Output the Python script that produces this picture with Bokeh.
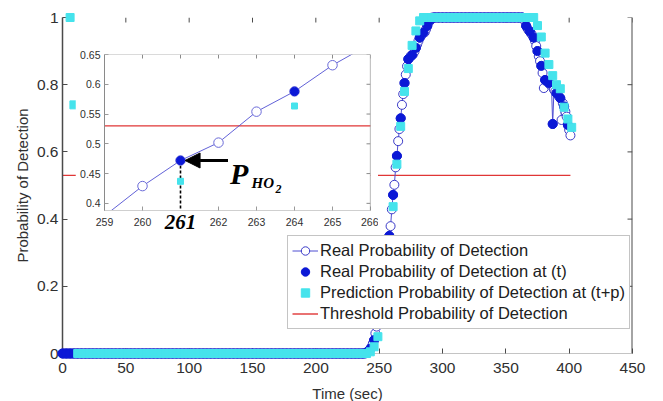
from bokeh.plotting import figure
from bokeh.models import (Range1d, FixedTicker, Legend, LegendItem,
                          Label, Arrow, NormalHead, Span)
from bokeh.embed import file_html
from bokeh.resources import INLINE

# ---------------- data ----------------
# real probability of detection, one sample per second (0 .. 401 s)
real_t = list(range(0, 402))
real_p = (
    [0.0] * 240
    + [0.003, 0.006, 0.010, 0.014, 0.020, 0.030, 0.040, 0.060, 0.080, 0.105,
       0.130, 0.155, 0.180, 0.205, 0.230, 0.255, 0.280, 0.310, 0.350, 0.379,
       0.429, 0.472, 0.502, 0.554, 0.588, 0.632, 0.668, 0.700, 0.740, 0.772,
       0.805, 0.830, 0.855, 0.876, 0.880, 0.886, 0.888, 0.892, 0.900, 0.910,
       0.920, 0.930, 0.940, 0.945, 0.950, 0.955, 0.956, 0.965, 0.975, 0.985,
       0.990, 0.995]
    + [1.0] * 71
    + [1.0, 0.998, 0.990, 0.975, 0.968, 0.962, 0.958, 0.952, 0.947, 0.940,
       0.930, 0.915, 0.900, 0.885, 0.870, 0.856, 0.835, 0.790, 0.814, 0.810,
       0.808, 0.805, 0.800, 0.800, 0.683, 0.785, 0.780, 0.775, 0.770, 0.765,
       0.760, 0.695, 0.745, 0.735, 0.720, 0.705, 0.680, 0.665, 0.649]
)

# real probability sampled at the decision instants t (every 3 s)
meas_t = real_t[::3]
meas_p = real_p[::3]

# predicted probability at (t+p)
pred_t = list(range(6, 405, 3))
pred_p = (
    [1.0, 0.74]
    + [0.0] * 77
    + [0.005, 0.020, 0.050, 0.120, 0.200, 0.300, 0.437, 0.5635, 0.676, 0.780,
       0.848, 0.917, 0.960, 0.990]
    + [1.0] * 30
    + [0.976, 0.942, 0.894, 0.860, 0.827, 0.800, 0.788, 0.733, 0.698, 0.673]
)

threshold = 0.53
thr_t = [real_t[0], real_t[-1]]
thr_p = [threshold, threshold]

# handover instant highlighted in the zoomed view
t_ho2 = 261
p_ho2 = real_p[real_t.index(t_ho2)]

main_xticks = [0, 50, 100, 150, 200, 250, 300, 350, 400, 450]
main_yticks = [0, 0.2, 0.4, 0.6, 0.8, 1]
main_ylabels = ["0", "0.2", "0.4", "0.6", "0.8", "1"]

zoom_xticks = [259, 260, 262, 263, 264, 265, 266]   # 261 gets its own label
zoom_xtick_marks = [259, 260, 261, 262, 263, 264, 265, 266]
zoom_yticks = [0.4, 0.45, 0.5, 0.55, 0.6, 0.65]
zoom_ylabels = ["0.4", "0.45", "0.5", "0.55", "0.6", "0.65"]

# ---------------- style ----------------
FONT = "Liberation Sans"
SERIF = "Liberation Serif"
C_LINE = "#4f4fd2"
C_OPEN = "#3a3ac8"
C_MEAS = "#0b18d6"
C_PRED = "#45e3ec"
C_THR = "#e03636"
C_AXIS = "#4a4a4a"
C_TEXT = "#303030"


def style_axis(ax, line_color, font_size, tick_color, tick_len=5):
    ax.major_tick_in = tick_len
    ax.major_tick_out = 0
    ax.minor_tick_line_color = None
    ax.major_tick_line_color = tick_color
    ax.axis_line_color = line_color
    ax.major_label_text_font = FONT
    ax.major_label_text_color = C_TEXT
    ax.major_label_text_font_size = font_size


def box_ticks(fig, xticks, yticks, color, length_px, fw, fh):
    """Inward tick marks on the top and right edges of a frame."""
    x0, x1 = fig.x_range.start, fig.x_range.end
    y0, y1 = fig.y_range.start, fig.y_range.end
    dy = (y1 - y0) * length_px / fh
    dx = (x1 - x0) * length_px / fw
    fig.segment(x0=xticks, y0=[y1] * len(xticks),
                x1=xticks, y1=[y1 - dy] * len(xticks),
                line_color=color, line_width=1)
    fig.segment(x0=[x1] * len(yticks), y0=yticks,
                x1=[x1 - dx] * len(yticks), y1=yticks,
                line_color=color, line_width=1)


# ---------------- main axes ----------------
MW, MH = 570, 336
p = figure(frame_width=MW, frame_height=MH,
           min_border_left=62, min_border_right=31,
           min_border_top=17, min_border_bottom=48,
           x_range=Range1d(0, 450), y_range=Range1d(0, 1),
           output_backend="svg", toolbar_location=None,
           background_fill_color="white", border_fill_color="white",
           styles={"position": "absolute", "left": "0px", "top": "0px"})
p.grid.visible = False
p.outline_line_color = None

p.xaxis.ticker = FixedTicker(ticks=main_xticks)
p.yaxis.ticker = FixedTicker(ticks=main_yticks)
p.yaxis.major_label_overrides = dict(zip(main_yticks, main_ylabels))
style_axis(p.xaxis[0], "#c4c4c4", "15.5px", C_AXIS)
style_axis(p.yaxis[0], C_AXIS, "15.5px", C_AXIS)
p.yaxis.axis_line_width = 1.5
p.xaxis.major_label_standoff = 9
p.yaxis.major_label_standoff = 4
p.xaxis.axis_label = "Time (sec)"
p.yaxis.axis_label = "Probability of Detection"
for ax in (p.xaxis[0], p.yaxis[0]):
    ax.axis_label_text_font = FONT
    ax.axis_label_text_font_size = "15px"
    ax.axis_label_text_font_style = "normal"
    ax.axis_label_text_color = C_TEXT
p.xaxis.axis_label_standoff = 9
p.yaxis.axis_label_standoff = 3

p.add_layout(Span(location=p.x_range.end, dimension="height",
                  line_color=C_AXIS, line_width=2))
box_ticks(p, main_xticks, main_yticks, C_AXIS, 5, MW, MH)

# markers are drawn on the overlay level so that those sitting on 0 and 1
# are shown whole rather than cut by the frame edge
r_thr = p.line(thr_t, thr_p, line_color=C_THR, line_width=1.4)
r_line = p.line(real_t, real_p, line_color=C_LINE, line_width=1)
r_open = p.scatter(real_t, real_p, marker="circle", size=9,
                   fill_color="white", line_color=C_OPEN, line_width=1,
                   level="overlay")
r_meas = p.scatter(meas_t, meas_p, marker="circle", size=9,
                   fill_color=C_MEAS, line_color=C_MEAS, level="overlay")
r_pred = p.scatter(pred_t, pred_p, marker="square", size=8,
                   fill_color=C_PRED, line_color=C_PRED, level="overlay")

legend = Legend(items=[
    LegendItem(label="Real Probability of Detection", renderers=[r_line, r_open]),
    LegendItem(label="Real Probability of Detection at (t)", renderers=[r_meas]),
    LegendItem(label="Prediction Probability of Detection at (t+p)", renderers=[r_pred]),
    LegendItem(label="Threshold Probability of Detection", renderers=[r_thr]),
], location=(225, 24), level="overlay")
legend.label_text_font = FONT
legend.label_text_font_size = "16.5px"
legend.label_text_color = "#202020"
legend.border_line_color = "#8a8a8a"
legend.border_line_width = 1
legend.background_fill_color = "white"
legend.background_fill_alpha = 1
legend.padding = 4
legend.spacing = 0
legend.margin = 0
legend.glyph_width = 26
legend.glyph_height = 21
legend.label_height = 21
legend.label_standoff = 2
p.add_layout(legend, "center")

# ---------------- zoomed view ----------------
ZL, ZT = 75, 44           # placement of the zoomed view on the page
ZBL, ZBT = 29, 10         # its left / top borders
ZW, ZH = 266, 156
q = figure(frame_width=ZW, frame_height=ZH,
           min_border_left=ZBL, min_border_right=8,
           min_border_top=ZBT, min_border_bottom=25,
           x_range=Range1d(259, 266), y_range=Range1d(0.388, 0.65),
           output_backend="svg", toolbar_location=None,
           background_fill_color="white", border_fill_color="white",
           styles={"position": "absolute", "left": f"{ZL}px", "top": f"{ZT}px"})
q.grid.visible = False
q.outline_line_color = None
q.xaxis.ticker = FixedTicker(ticks=zoom_xticks)
q.yaxis.ticker = FixedTicker(ticks=zoom_yticks)
q.yaxis.major_label_overrides = dict(zip(zoom_yticks, zoom_ylabels))
style_axis(q.xaxis[0], "#cfcfcf", "10.5px", "#9a9a9a", tick_len=4)
style_axis(q.yaxis[0], "#8a8a8a", "10.5px", "#9a9a9a", tick_len=4)
q.xaxis.major_label_standoff = 7
q.yaxis.major_label_standoff = 4

q.add_layout(Span(location=q.y_range.end, dimension="width",
                  line_color="#b5b5b5", line_width=1))
q.add_layout(Span(location=q.x_range.end, dimension="height",
                  line_color="#8a8a8a", line_width=1.2))
box_ticks(q, zoom_xtick_marks, zoom_yticks, "#8a8a8a", 4, ZW, ZH)

q.line(thr_t, thr_p, line_color=C_THR, line_width=1.2)
q.segment(x0=[t_ho2], y0=[p_ho2], x1=[t_ho2], y1=[q.y_range.start],
          line_color="black", line_width=1.6, line_dash="3 2")
q.line(real_t, real_p, line_color=C_LINE, line_width=0.9)
q.scatter(real_t, real_p, marker="circle", size=9.5,
          fill_color="white", line_color="#6a6ad8", line_width=1)
q.scatter(meas_t, meas_p, marker="circle", size=8.5,
          fill_color=C_MEAS, line_color=C_MEAS)
q.scatter(pred_t, pred_p, marker="square", size=6,
          fill_color=C_PRED, line_color=C_PRED)

q.add_layout(Arrow(x_start=t_ho2 + 1.25, y_start=p_ho2,
                   x_end=t_ho2 + 0.12, y_end=p_ho2,
                   line_color="black", line_width=3,
                   end=NormalHead(size=15, fill_color="black", line_color="black")))

q.add_layout(Label(x=t_ho2 + 1.3, y=p_ho2 - 0.022, text="P",
                   text_font=SERIF, text_font_style="bold italic",
                   text_font_size="30px", text_color="black",
                   text_align="left", text_baseline="alphabetic"))
q.add_layout(Label(x=t_ho2 + 1.87, y=p_ho2 - 0.038, text="HO",
                   text_font=SERIF, text_font_style="bold italic",
                   text_font_size="15px", text_color="black",
                   text_align="left", text_baseline="alphabetic"))
q.add_layout(Label(x=t_ho2 + 2.5, y=p_ho2 - 0.048, text="2",
                   text_font=SERIF, text_font_style="bold italic",
                   text_font_size="12px", text_color="black",
                   text_align="left", text_baseline="alphabetic"))

# strip under the zoomed frame, sharing its time scale, for the emphasised tick label
s = figure(frame_width=ZW, frame_height=26,
           min_border_left=0, min_border_right=0,
           min_border_top=0, min_border_bottom=0,
           x_range=q.x_range, y_range=Range1d(0, 1),
           x_axis_location=None, y_axis_location=None,
           output_backend="svg", toolbar_location=None,
           background_fill_alpha=0, border_fill_alpha=0,
           styles={"position": "absolute", "left": f"{ZL + ZBL}px",
                   "top": f"{ZT + ZBT + ZH}px"})
s.grid.visible = False
s.outline_line_color = None
s.add_layout(Label(x=t_ho2, y=0.55, text=str(t_ho2),
                   text_font=SERIF, text_font_style="bold italic",
                   text_font_size="21px", text_color="black",
                   text_align="center", text_baseline="middle"))

open("out.html", "w").write(file_html([p, q, s], INLINE))
